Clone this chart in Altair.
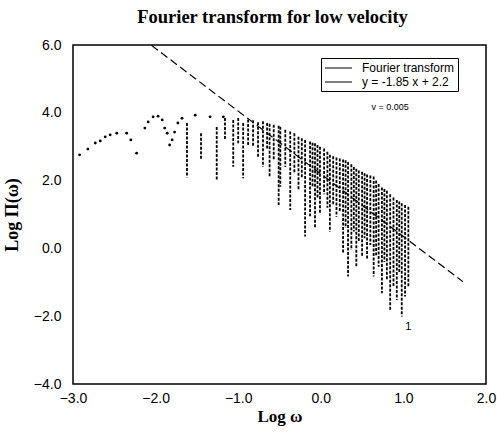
import altair as alt
import pandas as pd

# Smooth low-frequency part of the Fourier transform
dot_x = [-2.92, -2.82, -2.73, -2.67, -2.61, -2.55, -2.47, -2.35, -2.30, -2.23,
         -2.13, -2.09, -2.03, -1.97, -1.92, -1.89, -1.86, -1.83, -1.80, -1.77,
         -1.73, -1.68, -1.52, -1.34, -1.18]
dot_y = [2.76, 2.93, 3.11, 3.17, 3.29, 3.35, 3.40, 3.40, 3.20, 2.81,
         3.55, 3.73, 3.88, 3.90, 3.79, 3.55, 3.40, 3.05, 3.20, 3.43,
         3.70, 3.84, 3.93, 3.88, 3.88]

# Dense high-frequency part: vertical spikes (x, top, bottom)
spike_x = [-1.62, -1.45, -1.26, -1.16, -1.06, -1.00, -0.94, -0.88, -0.82, -0.76,
           -0.70, -0.65, -0.62, -0.57, -0.51, -0.49, -0.43, -0.37, -0.32, -0.27,
           -0.23, -0.19, -0.13, -0.10, -0.07, -0.04, -0.01, 0.04, 0.08, 0.11,
           0.15, 0.19, 0.23, 0.27, 0.30, 0.33, 0.37, 0.40, 0.43, 0.46,
           0.50, 0.53, 0.56, 0.60, 0.64, 0.67, 0.70, 0.74, 0.77, 0.80,
           0.84, 0.88, 0.92, 0.95, 0.98, 1.02, 1.06]
spike_top = [3.70, 3.40, 3.58, 3.85, 3.79, 3.85, 3.70, 3.80, 3.78, 3.72,
             3.75, 3.70, 3.68, 3.65, 3.62, 3.59, 3.50, 3.45, 3.40, 3.29,
             3.25, 3.20, 3.15, 3.12, 3.10, 3.05, 3.00, 2.95, 2.85, 2.76,
             2.72, 2.68, 2.65, 2.62, 2.60, 2.55, 2.48, 2.40, 2.35, 2.30,
             2.26, 2.22, 2.18, 2.15, 2.12, 2.00, 1.90, 1.80, 1.75, 1.70,
             1.60, 1.50, 1.43, 1.38, 1.33, 1.28, 1.23]
spike_bot = [2.10, 2.60, 2.02, 3.20, 2.41, 3.10, 2.07, 3.05, 3.00, 2.70,
             2.41, 2.90, 2.12, 2.60, 1.28, 1.82, 2.40, 1.13, 2.20, 1.72,
             2.10, 0.35, 0.95, 1.80, 0.59, 1.50, 1.03, 1.60, 1.20, 0.49,
             1.30, 0.93, 1.10, -0.15, 0.60, -0.83, -0.05, 0.50, -0.54, 0.20,
             -0.24, 0.30, -0.34, 0.10, -0.83, -0.20, -0.54, -1.32, -0.40, -0.93,
             -1.82, -1.13, -1.52, -0.70, -2.01, -1.42, -1.13]

# Fitted line y = -1.85 x + 2.2 (end points)
fit_x = [-2.05, 1.72]
fit_y = [5.99, -0.98]

series_names = ["Fourier transform", "y = -1.85 x + 2.2"]

note_x = [0.84, 1.06]
note_y = [4.17, -2.32]
note_text = ["v = 0.005", "1"]
note_size = [9, 11]

dots = pd.DataFrame({"x": dot_x, "y": dot_y, "series": series_names[0]})
spikes = pd.DataFrame({"x": spike_x, "y": spike_top, "y2": spike_bot, "series": series_names[0]})
fit = pd.DataFrame({"x": fit_x, "y": fit_y, "series": series_names[1]})
notes = pd.DataFrame({"x": note_x, "y": note_y, "t": note_text, "s": note_size})

xs = alt.Scale(domain=[-3, 2], nice=False, zero=False)
ys = alt.Scale(domain=[-4, 6], nice=False, zero=False)

x_enc = alt.X("x:Q", scale=xs, axis=alt.Axis(
    values=[-3, -2, -1, 0, 1, 2], format=".1f", title="Log ω",
    labelPadding=7, titlePadding=3, ticks=False, domain=False, grid=False,
    labelFlush=False, titleFont="Liberation Serif", titleFontWeight="bold", titleFontSize=17))
y_enc = alt.Y("y:Q", scale=ys, axis=alt.Axis(
    values=[-4, -2, 0, 2, 4, 6], format=".1f", title="Log Π(ω)",
    labelPadding=12, titlePadding=12, ticks=False, domain=False, grid=False,
    labelFlush=False, titleFont="Liberation Serif", titleFontWeight="bold", titleFontSize=18))

color = alt.Color("series:N", scale=alt.Scale(domain=series_names, range=["black", "black"]),
                  legend=alt.Legend(title=None, orient="none", legendX=248, legendY=13,
                                    symbolType="M-1,0H3.5", symbolSize=144, symbolStrokeWidth=1.2,
                                    symbolStrokeColor="black", symbolFillColor="transparent",
                                    symbolDash=[1, 0],
                                    labelFontSize=12, labelFont="Liberation Sans", labelOffset=24,
                                    strokeColor="black", fillColor="white", padding=3,
                                    rowPadding=1, labelLimit=200))

spike_layer = alt.Chart(spikes).mark_rule(strokeWidth=1.8, strokeDash=[3, 1.5]).encode(
    x=x_enc, y=y_enc, y2="y2:Q", color=color)
dot_layer = alt.Chart(dots).mark_point(filled=True, size=8, opacity=1).encode(
    x=x_enc, y=y_enc, color=color)
fit_layer = alt.Chart(fit).mark_line(strokeWidth=1.2, strokeDash=[8, 4]).encode(
    x=x_enc, y=y_enc, color=color)
note_layer = alt.Chart(notes).mark_text(font="Liberation Sans", color="black").encode(
    x=x_enc, y=y_enc, text="t:N", size=alt.Size("s:Q", scale=None, legend=None))

chart = alt.layer(spike_layer, dot_layer, fit_layer, note_layer).properties(
    width=413, height=339,
    autosize=alt.AutoSizeParams(type="none"),
    padding={"left": 73, "top": 45, "right": 11, "bottom": 48},
    title=alt.TitleParams("Fourier transform for low  velocity", font="Liberation Serif",
                          fontSize=18.5, fontWeight="bold", anchor="middle", frame="group",
                          offset=12, dx=-7),
    background="white",
).configure_view(stroke="black", strokeWidth=1.5).configure_axis(
    labelFont="Liberation Sans", labelFontSize=14, labelColor="black", titleColor="black")

chart.save("out.html", embed_options={"renderer": "svg", "actions": False})
